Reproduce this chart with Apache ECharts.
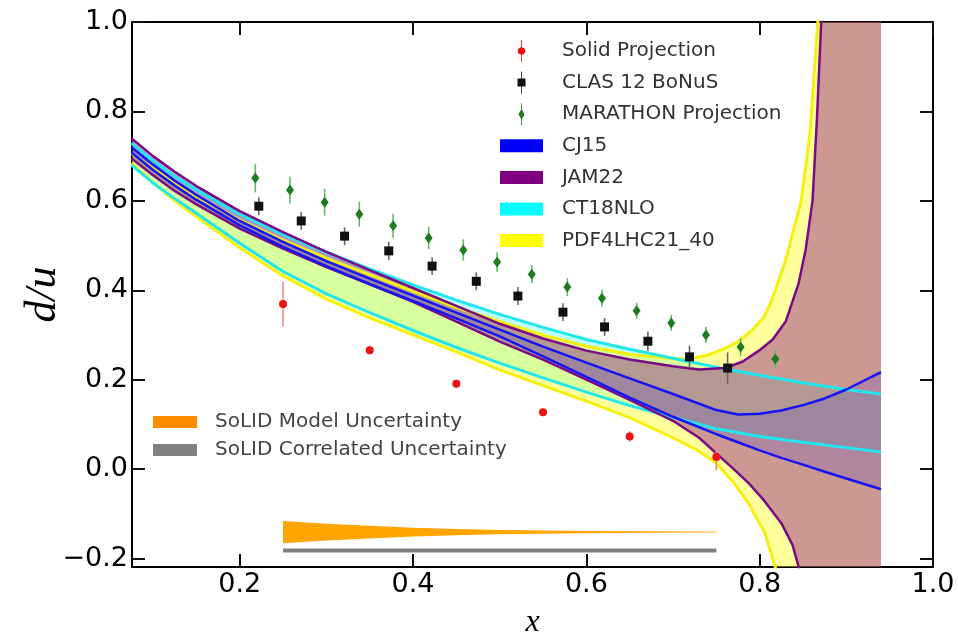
<!DOCTYPE html>
<html>
<head>
<meta charset="utf-8">
<script src="https://cdn.jsdelivr.net/npm/echarts@6/dist/echarts.min.js"></script>
<style>
html, body { margin: 0; padding: 0; background: #fff; }
#chart { width: 958px; height: 635px; }
</style>
</head>
<body>
<div id="chart"></div>
<script>
// ---- data points ----
var solidX = [0.25, 0.35, 0.45, 0.55, 0.65, 0.75];
var solidY = [0.369, 0.266, 0.191, 0.127, 0.073, 0.027];
var solidErr = [0.05, 0.01, 0.006, 0.008, 0.012, 0.03];

var clasX = [0.222, 0.271, 0.321, 0.372, 0.422, 0.473, 0.521, 0.573, 0.621, 0.671, 0.719, 0.763];
var clasY = [0.588, 0.555, 0.521, 0.488, 0.454, 0.420, 0.387, 0.351, 0.318, 0.286, 0.251, 0.226];
var clasErr = [0.02, 0.02, 0.02, 0.02, 0.02, 0.02, 0.02, 0.02, 0.02, 0.022, 0.025, 0.035];

var marX = [0.218, 0.258, 0.298, 0.338, 0.377, 0.418, 0.458, 0.497, 0.537, 0.578, 0.618, 0.658, 0.698, 0.738, 0.778, 0.818];
var marY = [0.651, 0.624, 0.597, 0.570, 0.544, 0.517, 0.490, 0.463, 0.436, 0.407, 0.382, 0.354, 0.327, 0.300, 0.273, 0.246];
var marErr = [0.032, 0.03, 0.03, 0.028, 0.027, 0.025, 0.024, 0.022, 0.02, 0.02, 0.019, 0.018, 0.018, 0.018, 0.02, 0.02];

// ---- PDF bands (lower / upper edges) ----
var cjX = [0.075, 0.1, 0.125, 0.15, 0.2, 0.25, 0.3, 0.35, 0.4, 0.45, 0.5, 0.55, 0.6, 0.65, 0.7, 0.75, 0.775, 0.8, 0.825, 0.85, 0.875, 0.9, 0.94];
var cjHi = [0.72, 0.681, 0.645, 0.613, 0.555, 0.508, 0.465, 0.426, 0.388, 0.35, 0.312, 0.274, 0.238, 0.203, 0.168, 0.132, 0.122, 0.124, 0.131, 0.143, 0.158, 0.178, 0.217];
var cjLo = [0.708, 0.669, 0.634, 0.602, 0.545, 0.497, 0.454, 0.414, 0.376, 0.337, 0.297, 0.252, 0.206, 0.16, 0.117, 0.078, 0.06, 0.042, 0.025, 0.01, -0.006, -0.021, -0.045];

var ctX = [0.075, 0.1, 0.125, 0.15, 0.2, 0.25, 0.3, 0.35, 0.4, 0.45, 0.5, 0.55, 0.6, 0.65, 0.7, 0.75, 0.8, 0.85, 0.9, 0.94];
var ctHi = [0.729, 0.69, 0.655, 0.625, 0.57, 0.525, 0.485, 0.448, 0.412, 0.378, 0.346, 0.317, 0.29, 0.268, 0.248, 0.228, 0.21, 0.193, 0.178, 0.168];
var ctLo = [0.68, 0.64, 0.605, 0.572, 0.505, 0.442, 0.392, 0.35, 0.31, 0.272, 0.237, 0.204, 0.172, 0.142, 0.116, 0.09, 0.073, 0.06, 0.048, 0.038];

var jamHiX = [0.075, 0.1, 0.125, 0.15, 0.2, 0.25, 0.3, 0.35, 0.4, 0.45, 0.5, 0.55, 0.6, 0.65, 0.7, 0.73, 0.76, 0.78, 0.8, 0.815, 0.83, 0.845, 0.853, 0.861, 0.866, 0.871, 0.876, 0.94];
var jamHi = [0.74, 0.7, 0.665, 0.633, 0.577, 0.53, 0.486, 0.445, 0.405, 0.365, 0.325, 0.292, 0.265, 0.245, 0.23, 0.223, 0.226, 0.24, 0.266, 0.29, 0.33, 0.416, 0.49, 0.6, 0.78, 1.0, 1.2, 3.0];
var jamLoX = [0.075, 0.1, 0.125, 0.15, 0.2, 0.25, 0.3, 0.35, 0.4, 0.45, 0.5, 0.55, 0.6, 0.65, 0.7, 0.73, 0.75, 0.77, 0.787, 0.805, 0.825, 0.838, 0.845, 0.85, 0.94];
var jamLo = [0.695, 0.657, 0.622, 0.592, 0.538, 0.493, 0.452, 0.413, 0.374, 0.33, 0.285, 0.245, 0.2, 0.155, 0.108, 0.07, 0.035, 0.0, -0.031, -0.07, -0.121, -0.17, -0.219, -0.28, -3.0];

var pdfHiX = [0.075, 0.1, 0.125, 0.15, 0.2, 0.25, 0.3, 0.35, 0.4, 0.45, 0.5, 0.55, 0.6, 0.65, 0.7, 0.72, 0.74, 0.76, 0.775, 0.791, 0.805, 0.814, 0.83, 0.848, 0.858, 0.867, 0.875, 0.94];
var pdfHi = [0.707, 0.672, 0.64, 0.61, 0.557, 0.512, 0.472, 0.435, 0.398, 0.362, 0.33, 0.3, 0.275, 0.257, 0.247, 0.247, 0.255, 0.27, 0.285, 0.31, 0.34, 0.378, 0.468, 0.6, 0.75, 1.0, 1.25, 3.0];
var pdfLoX = [0.075, 0.1, 0.125, 0.15, 0.2, 0.25, 0.3, 0.35, 0.4, 0.45, 0.5, 0.55, 0.6, 0.65, 0.7, 0.73, 0.75, 0.77, 0.787, 0.806, 0.818, 0.825, 0.94];
var pdfLo = [0.684, 0.64, 0.6, 0.565, 0.495, 0.432, 0.38, 0.338, 0.3, 0.262, 0.222, 0.187, 0.152, 0.115, 0.07, 0.04, 0.013, -0.03, -0.076, -0.143, -0.219, -0.29, -3.0];

// ---- SoLID uncertainty bands ----
var modelX = [0.25, 0.3, 0.35, 0.4, 0.45, 0.5, 0.55, 0.6, 0.65, 0.7, 0.75];
var modelHi = [-0.116, -0.122, -0.127, -0.131, -0.134, -0.136, -0.1375, -0.1385, -0.139, -0.1395, -0.14];
var modelLo = [-0.166, -0.160, -0.155, -0.151, -0.148, -0.146, -0.1445, -0.1435, -0.143, -0.1425, -0.142];
var corrX = [0.25, 0.75];
var corrHi = [-0.1774, -0.1774];
var corrLo = [-0.1864, -0.1864];

// ---- axes ----
var xTicks = [0.2, 0.4, 0.6, 0.8, 1.0];
var yTicks = [-0.2, 0.0, 0.2, 0.4, 0.6, 0.8, 1.0];
var xMin = 0.0757, xMax = 1.0, yMin = -0.219, yMax = 1.0;

function zip(a, b) {
	var out = [];
	for (var i = 0; i < a.length; i++) out.push([a[i], b[i]]);
	return out;
}

function band(name, color, fill, xl, lo, xh, hi) {
	return {
		name: name,
		type: 'custom',
		silent: true,
		itemStyle: { color: color },
		data: [[xl[0], lo[0]]],
		renderItem: function (params, api) {
			var pts = [];
			for (var i = 0; i < xl.length; i++) pts.push(api.coord([xl[i], lo[i]]));
			for (var j = xh.length - 1; j >= 0; j--) pts.push(api.coord([xh[j], hi[j]]));
			var cs = params.coordSys;
			return {
				type: 'polygon',
				shape: { points: pts },
				style: { fill: fill },
				clipPath: { type: 'rect', shape: { x: cs.x, y: cs.y, width: cs.width, height: cs.height } }
			};
		}
	};
}

function edge(name, color, width, xs, ys) {
	return {
		name: name,
		type: 'line',
		silent: true,
		showSymbol: false,
		clip: true,
		data: zip(xs, ys),
		lineStyle: { color: color, width: width },
		itemStyle: { color: color },
		z: 3
	};
}

function errbars(name, color, xs, ys, es) {
	var d = [];
	for (var i = 0; i < xs.length; i++) d.push([xs[i], ys[i], es[i]]);
	return {
		name: name,
		type: 'custom',
		silent: true,
		encode: { x: 0, y: 1 },
		data: d,
		z: 4,
		renderItem: function (params, api) {
			var x = api.value(0), y = api.value(1), e = api.value(2);
			var p1 = api.coord([x, y - e]), p2 = api.coord([x, y + e]);
			return {
				type: 'line',
				shape: { x1: p1[0], y1: p1[1], x2: p2[0], y2: p2[1] },
				style: { stroke: color, lineWidth: 1.6 }
			};
		}
	};
}

function points(name, color, symbol, size, xs, ys) {
	return {
		name: name,
		type: 'scatter',
		silent: true,
		symbol: symbol,
		symbolSize: size,
		data: zip(xs, ys),
		itemStyle: { color: color, opacity: 1 },
		z: 5
	};
}

var C_CJ = '#1414f5', C_JAM = '#7b0a86', C_CT = '#22e6ee', C_PDF = '#f6f00e';
var PATCH = 'path://M0,0h43v13h-43z';

var tickFont = { fontFamily: 'DejaVu Sans', fontSize: 27, color: '#000' };
var legText = { fontFamily: 'DejaVu Sans', fontSize: 20, color: '#333', lineHeight: 24, padding: [0, 0, 0, 14] };

var myChart = echarts.init(document.getElementById('chart'));
var option = {
	animation: false,
	backgroundColor: '#fff',
	grid: { left: 132, right: 25, top: 22, bottom: 68, outerBoundsMode: 'none', containLabel: false },
	xAxis: [{
		type: 'value', min: xMin, max: xMax,
		name: 'x', nameLocation: 'middle', nameGap: 40, nameMoveOverlap: false,
		nameTextStyle: { fontFamily: 'Liberation Serif', fontStyle: 'italic', fontSize: 32, color: '#000' },
		axisLine: { onZero: false, lineStyle: { color: '#000', width: 2 } },
		axisTick: { inside: true, length: 13, customValues: xTicks, lineStyle: { color: '#111', width: 2 } },
		axisLabel: { customValues: xTicks, margin: 4, formatter: function (v) { return v.toFixed(1); }, fontFamily: tickFont.fontFamily, fontSize: tickFont.fontSize, color: tickFont.color },
		splitLine: { show: false }
	}, {
		type: 'value', min: xMin, max: xMax, position: 'top',
		axisLine: { onZero: false, lineStyle: { color: '#000', width: 2 } },
		axisTick: { inside: true, length: 13, customValues: xTicks, lineStyle: { color: '#111', width: 2 } },
		axisLabel: { show: false },
		splitLine: { show: false }
	}],
	yAxis: [{
		type: 'value', min: yMin, max: yMax,
		name: 'd/u', nameLocation: 'middle', nameGap: 67, nameRotate: 90, nameMoveOverlap: false,
		nameTextStyle: { fontFamily: 'Liberation Serif', fontStyle: 'italic', fontSize: 44, color: '#000' },
		axisLine: { onZero: false, lineStyle: { color: '#000', width: 2 } },
		axisTick: { inside: true, length: 13, customValues: yTicks, lineStyle: { color: '#111', width: 2 } },
		axisLabel: {
			customValues: yTicks, margin: 4,
			formatter: function (v) { return v < -1e-9 ? '\u2212' + Math.abs(v).toFixed(1) : Math.abs(v).toFixed(1); },
			fontFamily: tickFont.fontFamily, fontSize: tickFont.fontSize, color: tickFont.color
		},
		splitLine: { show: false }
	}, {
		type: 'value', min: yMin, max: yMax, position: 'right',
		axisLine: { onZero: false, lineStyle: { color: '#000', width: 2 } },
		axisTick: { inside: true, length: 13, customValues: yTicks, lineStyle: { color: '#111', width: 2 } },
		axisLabel: { show: false },
		splitLine: { show: false }
	}],
	legend: [{
		orient: 'vertical', left: 495, top: 34,
		itemWidth: 43, itemHeight: 22, itemGap: 7.6,
		selectedMode: false,
		textStyle: legText,
		data: [
			{ name: 'Solid Projection', icon: 'path://M3.6,0h0.8v22h-0.8z M4,7 L6.8,8.2 L8,11 L6.8,13.8 L4,15 L1.2,13.8 L0,11 L1.2,8.2z', itemStyle: { color: '#ee1111' } },
			{ name: 'CLAS 12 BoNuS', icon: 'path://M3.6,0h0.8v22h-0.8z M0,7h8v8h-8z', itemStyle: { color: '#111' } },
			{ name: 'MARATHON Projection', icon: 'path://M3.6,0h0.8v22h-0.8z M4,5.5 L7,11 L4,16.5 L1,11z', itemStyle: { color: '#1e7b1e' } },
			{ name: 'CJ15', icon: PATCH, itemStyle: { color: '#0000ff', opacity: 1 } },
			{ name: 'JAM22', icon: PATCH, itemStyle: { color: '#800080', opacity: 1 } },
			{ name: 'CT18NLO', icon: PATCH, itemStyle: { color: '#00ffff', opacity: 1 } },
			{ name: 'PDF4LHC21_40', icon: PATCH, itemStyle: { color: '#ffff00', opacity: 1 } }
		]
	}, {
		orient: 'vertical', left: 148, top: 405,
		itemWidth: 44, itemHeight: 12, itemGap: 4,
		selectedMode: false,
		textStyle: { fontFamily: 'DejaVu Sans', fontSize: 20, color: '#444', lineHeight: 24, padding: [0, 0, 0, 13] },
		data: [
			{ name: 'SoLID Model Uncertainty', icon: 'rect', itemStyle: { color: '#ff8c00', opacity: 1 } },
			{ name: 'SoLID Correlated Uncertainty', icon: 'rect', itemStyle: { color: '#808080', opacity: 1 } }
		]
	}],
	series: [
		band('CT18NLO', '#00ffff', 'rgba(0,255,255,0.25)', ctX, ctLo, ctX, ctHi),
		band('PDF4LHC21_40', '#ffff00', 'rgba(255,255,0,0.38)', pdfLoX, pdfLo, pdfHiX, pdfHi),
		band('JAM22', '#800080', 'rgba(128,0,128,0.4)', jamLoX, jamLo, jamHiX, jamHi),
		band('CJ15', '#0000ff', 'rgba(0,0,255,0.12)', cjX, cjLo, cjX, cjHi),
		band('SoLID Model Uncertainty', '#ffa500', '#ffa500', modelX, modelLo, modelX, modelHi),
		band('SoLID Correlated Uncertainty', '#808080', '#808080', corrX, corrLo, corrX, corrHi),

		edge('pdf lo', C_PDF, 3, pdfLoX, pdfLo),
		edge('pdf hi', C_PDF, 3, pdfHiX, pdfHi),
		edge('ct lo', C_CT, 3, ctX, ctLo),
		edge('ct hi', C_CT, 3, ctX, ctHi),
		edge('jam lo', C_JAM, 2.5, jamLoX, jamLo),
		edge('jam hi', C_JAM, 2.5, jamHiX, jamHi),
		edge('cj lo', C_CJ, 2.5, cjX, cjLo),
		edge('cj hi', C_CJ, 2.5, cjX, cjHi),

		errbars('solid err', '#f08a8a', solidX, solidY, solidErr),
		errbars('clas err', '#666666', clasX, clasY, clasErr),
		errbars('mar err', '#66b866', marX, marY, marErr),

		points('Solid Projection', '#ee1111', 'circle', 8, solidX, solidY),
		points('CLAS 12 BoNuS', '#111111', 'rect', 9, clasX, clasY),
		points('MARATHON Projection', '#1e7b1e', 'diamond', [8, 11], marX, marY)
	]
};

myChart.setOption(option);
</script>
</body>
</html>
